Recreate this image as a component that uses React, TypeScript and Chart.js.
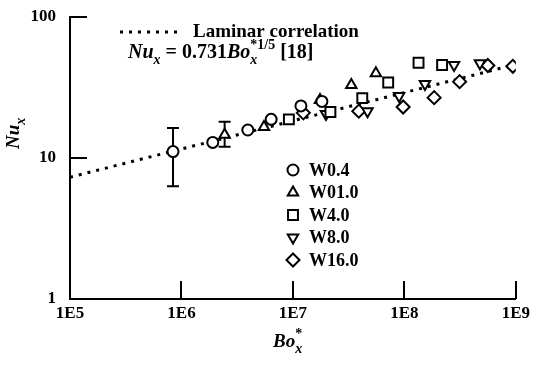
import React, { useEffect, useRef } from "react";
import { Chart, registerables } from "chart.js";

Chart.register(...registerables);

// ---- data ----
const xTickValues = [1e5, 1e6, 1e7, 1e8, 1e9];
const xTickLabels = ["1E5", "1E6", "1E7", "1E8", "1E9"];
const yTickValues = [1, 10, 100];
const yTickLabels = ["1", "10", "100"];

const laminarBo = [1e5, 1e9];
const laminarNu = [7.31, 46.1];

const w04Bo = [8.4e5, 1.91e6, 3.94e6, 6.38e6, 1.18e7, 1.82e7];
const w04Nu = [11.1, 12.9, 15.8, 18.8, 23.4, 25.2];
const w10Bo = [2.44e6, 5.5e6, 1.75e7, 3.34e7, 5.55e7];
const w10Nu = [14.6, 16.6, 25.8, 32.9, 39.9];
const w40Bo = [9.2e6, 2.17e7, 4.19e7, 7.16e7, 1.34e8, 2.18e8];
const w40Nu = [18.8, 21.2, 26.6, 34.3, 47.4, 45.7];
const w80Bo = [1.98e7, 4.67e7, 8.97e7, 1.53e8, 2.79e8, 4.76e8];
const w80Nu = [20.5, 21.5, 27.5, 33.5, 45.7, 46.9];
const w160Bo = [1.24e7, 3.9e7, 9.75e7, 1.85e8, 3.13e8, 5.61e8, 9.4e8];
const w160Nu = [20.9, 21.5, 23.0, 26.8, 34.8, 45.3, 44.7];

const errBo = [8.4e5, 2.44e6];
const errLow = [6.3, 12.0];
const errHigh = [16.3, 18.1];

const seriesLabels = ["W0.4", "W01.0", "W4.0", "W8.0", "W16.0"];
const seriesBo = [w04Bo, w10Bo, w40Bo, w80Bo, w160Bo];
const seriesNu = [w04Nu, w10Nu, w40Nu, w80Nu, w160Nu];

// ---- styles ----
const markerStyles = [
  { style: "circle", r: 5.5, rot: 0 },
  { style: "triangle", r: 6, rot: 0 },
  { style: "rect", r: 7, rot: 0 },
  { style: "triangle", r: 6, rot: 180 },
  { style: "rectRot", r: 6.5, rot: 0 },
];

const SERIF = "'Liberation Serif', 'Times New Roman', serif";

function drawMarker(ctx: CanvasRenderingContext2D, style: string, x: number, y: number, r: number, rot: number) {
  ctx.beginPath();
  if (style === "circle") {
    ctx.arc(x, y, r, 0, Math.PI * 2);
  } else if (style === "triangle") {
    let a = (rot * Math.PI) / 180;
    ctx.moveTo(x + Math.sin(a) * r, y - Math.cos(a) * r);
    a += (2 * Math.PI) / 3;
    ctx.lineTo(x + Math.sin(a) * r, y - Math.cos(a) * r);
    a += (2 * Math.PI) / 3;
    ctx.lineTo(x + Math.sin(a) * r, y - Math.cos(a) * r);
    ctx.closePath();
  } else if (style === "rect") {
    const s = r * Math.SQRT1_2;
    ctx.rect(x - s, y - s, 2 * s, 2 * s);
  } else {
    ctx.moveTo(x, y - r);
    ctx.lineTo(x + r, y);
    ctx.lineTo(x, y + r);
    ctx.lineTo(x - r, y);
    ctx.closePath();
  }
  ctx.fillStyle = "#fff";
  ctx.fill();
  ctx.lineWidth = 2;
  ctx.strokeStyle = "#000";
  ctx.stroke();
}

type Run = { t?: string; f?: string; dy?: number; sup?: Run; sub?: Run };

function drawRuns(ctx: CanvasRenderingContext2D, x: number, y: number, runs: Run[]) {
  let cx = x;
  for (const r of runs) {
    if (r.sup || r.sub) {
      let w = 0;
      for (const s of [r.sup, r.sub]) {
        if (!s) continue;
        ctx.font = s.f!;
        ctx.fillText(s.t!, cx, y + (s.dy || 0));
        w = Math.max(w, ctx.measureText(s.t!).width);
      }
      cx += w;
    } else {
      ctx.font = r.f!;
      ctx.fillText(r.t!, cx, y + (r.dy || 0));
      cx += ctx.measureText(r.t!).width;
    }
  }
}

const overlayPlugin = {
  id: "overlay",
  beforeDatasetsDraw(chart: any) {
    const ctx: CanvasRenderingContext2D = chart.ctx;
    const xs = chart.scales.x;
    const ys = chart.scales.y;
    ctx.save();
    ctx.strokeStyle = "#000";
    ctx.lineWidth = 2;
    ctx.setLineDash([]);
    for (let i = 0; i < errBo.length; i++) {
      const px = xs.getPixelForValue(errBo[i]);
      const top = ys.getPixelForValue(errHigh[i]);
      const bot = ys.getPixelForValue(errLow[i]);
      ctx.beginPath();
      ctx.moveTo(px, top);
      ctx.lineTo(px, bot);
      ctx.moveTo(px - 6, top);
      ctx.lineTo(px + 6, top);
      ctx.moveTo(px - 6, bot);
      ctx.lineTo(px + 6, bot);
      ctx.stroke();
    }
    ctx.restore();
  },
  afterDraw(chart: any) {
    const ctx: CanvasRenderingContext2D = chart.ctx;
    const xs = chart.scales.x;
    const ys = chart.scales.y;
    const area = chart.chartArea;
    ctx.save();
    ctx.strokeStyle = "#000";
    ctx.fillStyle = "#000";
    ctx.lineWidth = 2;
    ctx.setLineDash([]);
    // inward ticks
    ctx.beginPath();
    for (const v of xTickValues) {
      const px = Math.round(xs.getPixelForValue(v));
      ctx.moveTo(px, area.bottom);
      ctx.lineTo(px, area.bottom - 18);
    }
    for (const v of yTickValues) {
      const py = Math.round(ys.getPixelForValue(v));
      ctx.moveTo(area.left, py);
      ctx.lineTo(area.left + 17, py);
    }
    ctx.stroke();

    // legend
    const lx = 293;
    const ly0 = 170;
    const lstep = 22.5;
    ctx.textBaseline = "middle";
    ctx.textAlign = "left";
    for (let i = 0; i < seriesLabels.length; i++) {
      const m = markerStyles[i];
      const y = ly0 + i * lstep;
      drawMarker(ctx, m.style, lx, y, m.r, m.rot);
      ctx.fillStyle = "#000";
      ctx.font = `bold 18px ${SERIF}`;
      ctx.fillText(seriesLabels[i], 309, y + 1);
    }

    // annotation: laminar correlation
    ctx.beginPath();
    ctx.lineWidth = 3;
    ctx.setLineDash([3, 6]);
    ctx.moveTo(120, 32);
    ctx.lineTo(179, 32);
    ctx.stroke();
    ctx.setLineDash([]);
    ctx.textBaseline = "alphabetic";
    ctx.fillStyle = "#000";
    ctx.font = `bold 19px ${SERIF}`;
    ctx.fillText("Laminar correlation", 193, 37);

    drawRuns(ctx, 128, 58, [
      { t: "Nu", f: `italic bold 20px ${SERIF}` },
      { t: "x", f: `italic bold 14px ${SERIF}`, dy: 6 },
      { t: " = 0.731", f: `bold 20px ${SERIF}` },
      { t: "Bo", f: `italic bold 20px ${SERIF}` },
      {
        sup: { t: "*1/5", f: `bold 14px ${SERIF}`, dy: -9 },
        sub: { t: "x", f: `italic bold 14px ${SERIF}`, dy: 6 },
      },
      { t: " [18]", f: `bold 20px ${SERIF}` },
    ]);

    // axis titles
    drawRuns(ctx, 273, 347, [
      { t: "Bo", f: `italic bold 19px ${SERIF}` },
      {
        sup: { t: "*", f: `bold 14px ${SERIF}`, dy: -9 },
        sub: { t: "x", f: `italic bold 14px ${SERIF}`, dy: 6 },
      },
    ]);
    ctx.save();
    ctx.translate(19, 149);
    ctx.rotate(-Math.PI / 2);
    drawRuns(ctx, 0, 0, [
      { t: "Nu", f: `italic bold 19px ${SERIF}` },
      { t: "x", f: `italic bold 14px ${SERIF}`, dy: 6 },
    ]);
    ctx.restore();
    ctx.restore();
  },
};

export default function App() {
  const ref = useRef<HTMLCanvasElement>(null);
  useEffect(() => {
    const canvas = ref.current!;
    const datasets: any[] = [
      {
        type: "line",
        label: "Laminar correlation",
        data: laminarBo.map((x, i) => ({ x, y: laminarNu[i] })),
        borderColor: "#000",
        borderWidth: 3,
        borderDash: [3, 6],
        pointRadius: 0,
        showLine: true,
        fill: false,
        order: 10,
      },
    ];
    for (let i = 0; i < seriesLabels.length; i++) {
      const m = markerStyles[i];
      datasets.push({
        type: "scatter",
        label: seriesLabels[i],
        data: seriesBo[i].map((x, j) => ({ x, y: seriesNu[i][j] })),
        pointStyle: m.style,
        pointRadius: m.r,
        rotation: m.rot,
        pointBorderColor: "#000",
        pointBackgroundColor: "#fff",
        pointBorderWidth: 2,
        showLine: false,
        order: 1,
      });
    }
    const tickFont = { family: SERIF, size: 17, weight: "bold" as const };
    const chart = new Chart(canvas, {
      type: "scatter",
      data: { datasets },
      options: {
        animation: false,
        responsive: false,
        devicePixelRatio: 1,
        layout: { padding: { left: 0, right: 17, top: 17, bottom: 0 } },
        plugins: { legend: { display: false }, tooltip: { enabled: false } },
        scales: {
          x: {
            type: "logarithmic",
            min: 1e5,
            max: 1e9,
            afterBuildTicks: (s: any) => {
              s.ticks = xTickValues.map((v) => ({ value: v }));
            },
            afterFit: (s: any) => {
              s.height = 68;
            },
            grid: { display: false, drawTicks: false },
            border: { display: true, color: "#000", width: 2 },
            ticks: {
              autoSkip: false,
              maxRotation: 0,
              padding: 4,
              color: "#000",
              font: tickFont,
              callback: (v: any) => xTickLabels[xTickValues.indexOf(Number(v))],
            },
          },
          y: {
            type: "logarithmic",
            min: 1,
            max: 100,
            afterBuildTicks: (s: any) => {
              s.ticks = yTickValues.map((v) => ({ value: v }));
            },
            afterFit: (s: any) => {
              s.width = 70;
              s.paddingTop = 0;
              s.paddingBottom = 0;
            },
            grid: { display: false, drawTicks: false },
            border: { display: true, color: "#000", width: 2 },
            ticks: {
              autoSkip: false,
              padding: 14,
              color: "#000",
              font: tickFont,
              callback: (v: any) => yTickLabels[yTickValues.indexOf(Number(v))],
            },
          },
        },
      } as any,
      plugins: [overlayPlugin],
    });
    return () => chart.destroy();
  }, []);
  return (
    <div style={{ position: "fixed", left: 0, top: 0, width: 534, height: 367, background: "#fff" }}>
      <canvas ref={ref} width={534} height={367} style={{ display: "block" }} />
    </div>
  );
}
